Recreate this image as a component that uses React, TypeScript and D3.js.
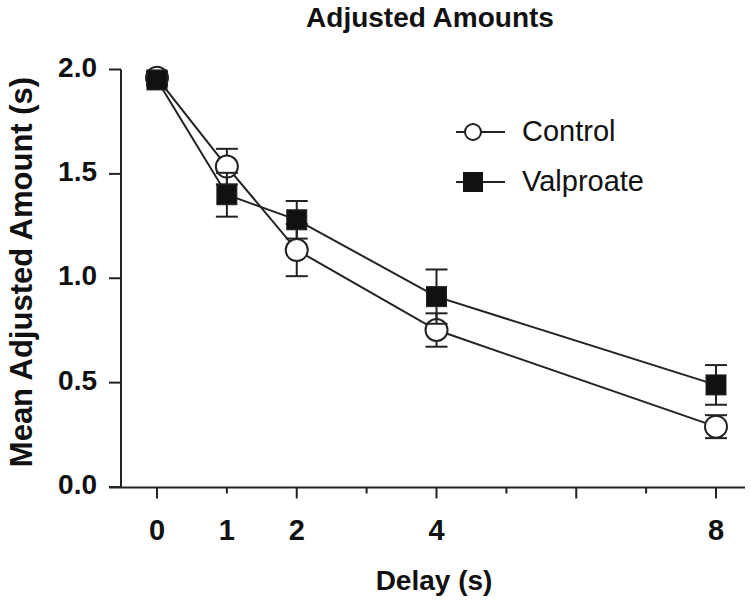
import React from "react";
import * as d3 from "d3";

const delays = [0, 1, 2, 4, 8];
const controlMean = [1.96, 1.535, 1.135, 0.752, 0.289];
const controlErr = [0.03, 0.085, 0.125, 0.08, 0.055];
const valproateMean = [1.95, 1.40, 1.28, 0.912, 0.489];
const valproateErr = [0.03, 0.105, 0.09, 0.13, 0.095];
const xMajorTicks = [0, 2, 4, 6, 8];
const xMinorTicks = [1, 3, 5, 7];
const xTickLabels = [0, 1, 2, 4, 8];
const yTickValues = [0, 0.5, 1.0, 1.5, 2.0];
const seriesNames = ["Control", "Valproate"];

export default function App() {
  const W = 751, H = 600;
  const x = d3.scaleLinear().domain([0, 8]).range([157, 716]);
  const y = d3.scaleLinear().domain([0, 2]).range([487, 69.5]);
  const line = d3.line<number>().x((_, i) => x(delays[i])).y((d) => y(d));
  const font = "'Liberation Sans', Arial, Helvetica, sans-serif";
  const sw = 2;
  const axisX = 121;
  const axisY = 487.5;

  const errBars = (means: number[], errs: number[], key: string) =>
    means.map((m, i) => {
      const cx = x(delays[i]);
      const t = y(m + errs[i]);
      const b = y(m - errs[i]);
      return (
        <g key={key + i} stroke="#222" strokeWidth={sw}>
          <line x1={cx} x2={cx} y1={t} y2={b} />
          <line x1={cx - 11} x2={cx + 11} y1={t} y2={t} />
          <line x1={cx - 11} x2={cx + 11} y1={b} y2={b} />
        </g>
      );
    });

  return (
    <svg width={W} height={H} style={{ display: "block", position: "absolute", left: 0, top: 0 }}>
      <rect width={W} height={H} fill="#fff" />
      <text x={430} y={27} textAnchor="middle" fontFamily={font} fontWeight="bold" fontSize={28} fill="#111">
        Adjusted Amounts
      </text>
      {/* Y axis */}
      <line x1={axisX} x2={axisX} y1={y(2)} y2={axisY} stroke="#222" strokeWidth={sw} />
      {yTickValues.map((v) => (
        <g key={"yt" + v}>
          <line x1={109} x2={axisX} y1={y(v)} y2={y(v)} stroke="#222" strokeWidth={sw} />
          <text x={97} y={y(v) + 7} textAnchor="end" fontFamily={font} fontWeight="bold" fontSize={28} fill="#111">
            {v.toFixed(1)}
          </text>
        </g>
      ))}
      <text
        transform={`translate(32,${272}) rotate(-90)`}
        textAnchor="middle"
        fontFamily={font}
        fontWeight="bold"
        fontSize={31}
        fill="#111"
      >
        Mean Adjusted Amount (s)
      </text>
      {/* X axis */}
      <line x1={109} x2={745} y1={axisY} y2={axisY} stroke="#222" strokeWidth={sw} />
      {xMajorTicks.map((v) => (
        <line key={"xt" + v} x1={x(v)} x2={x(v)} y1={axisY} y2={axisY + 11} stroke="#222" strokeWidth={sw} />
      ))}
      {xMinorTicks.map((v) => (
        <line key={"xm" + v} x1={x(v)} x2={x(v)} y1={axisY} y2={axisY + 6} stroke="#222" strokeWidth={sw} />
      ))}
      {xTickLabels.map((v) => (
        <text key={"xl" + v} x={x(v)} y={540} textAnchor="middle" fontFamily={font} fontWeight="bold" fontSize={29} fill="#111">
          {v}
        </text>
      ))}
      <text x={434} y={590} textAnchor="middle" fontFamily={font} fontWeight="bold" fontSize={28} fill="#111">
        Delay (s)
      </text>

      {/* Control */}
      <path d={line(controlMean) || ""} fill="none" stroke="#222" strokeWidth={sw} />
      {errBars(controlMean, controlErr, "ce")}
      {controlMean.map((m, i) => (
        <circle key={"c" + i} cx={x(delays[i])} cy={y(m)} r={11} fill="#fff" stroke="#222" strokeWidth={sw} />
      ))}
      {/* Valproate */}
      <path d={line(valproateMean) || ""} fill="none" stroke="#222" strokeWidth={sw} />
      {errBars(valproateMean, valproateErr, "ve")}
      {valproateMean.map((m, i) => (
        <rect key={"v" + i} x={x(delays[i]) - 10} y={y(m) - 10} width={20} height={20} fill="#111" stroke="#222" strokeWidth={1} />
      ))}

      {/* Legend */}
      <g>
        <line x1={456} x2={505} y1={132} y2={132} stroke="#222" strokeWidth={sw} />
        <circle cx={473} cy={132} r={8} fill="#fff" stroke="#222" strokeWidth={sw} />
        <text x={522} y={141} fontFamily={font} fontSize={29} fill="#111">{seriesNames[0]}</text>
        <line x1={456} x2={505} y1={182} y2={182} stroke="#222" strokeWidth={sw} />
        <rect x={463} y={172} width={20} height={20} fill="#111" />
        <text x={522} y={191} fontFamily={font} fontSize={29} fill="#111">{seriesNames[1]}</text>
      </g>
    </svg>
  );
}
